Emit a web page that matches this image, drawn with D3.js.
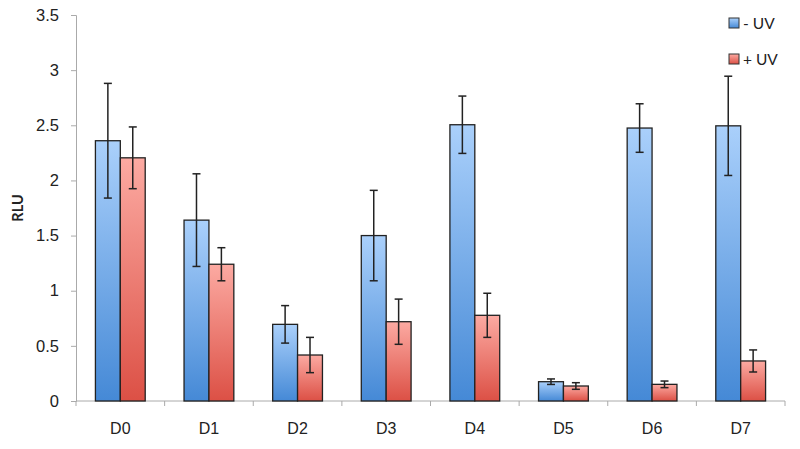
<!DOCTYPE html>
<html>
<head>
<meta charset="utf-8">
<script src="https://cdn.jsdelivr.net/npm/d3@7"></script>
<style>
  body { margin: 0; background: #fff; }
  svg { font-family: Lato, "Open Sans", sans-serif; }
</style>
</head>
<body>
<svg id="chart" width="800" height="449"></svg>
<script>
const days = ["D0", "D1", "D2", "D3", "D4", "D5", "D6", "D7"];
const series = ["- UV", "+ UV"];
const minusUV = [2.36, 1.64, 0.695, 1.50, 2.505, 0.175, 2.475, 2.495];
const minusUVErr = [0.52, 0.42, 0.17, 0.41, 0.26, 0.025, 0.22, 0.45];
const plusUV = [2.205, 1.24, 0.417, 0.719, 0.777, 0.136, 0.151, 0.363];
const plusUVErr = [0.28, 0.15, 0.16, 0.205, 0.2, 0.03, 0.03, 0.1];
const yTicks = [0, 0.5, 1, 1.5, 2, 2.5, 3, 3.5];

const svg = d3.select("#chart");
const margin = { left: 76, right: 15, top: 15, bottom: 48 };

const x = d3.scaleBand().domain(days).range([margin.left, 785]).paddingInner(0).paddingOuter(0);
const xs = d3.scaleBand().domain(series).range([0, x.bandwidth()]).paddingInner(0).paddingOuter(0.78);
const y = d3.scaleLinear().domain([0, 3.5]).range([401, 15]);

const defs = svg.append("defs");
const grads = [
  { id: "gBlue", top: "#aad0fb", bottom: "#4589d6" },
  { id: "gRed", top: "#fcaaa2", bottom: "#dc5045" }
];
grads.forEach(g => {
  const lg = defs.append("linearGradient").attr("id", g.id)
    .attr("x1", 0).attr("y1", 0).attr("x2", 0).attr("y2", 1);
  lg.append("stop").attr("offset", "0%").attr("stop-color", g.top);
  lg.append("stop").attr("offset", "100%").attr("stop-color", g.bottom);
});
const fills = ["url(#gBlue)", "url(#gRed)"];

// data rows
const rows = [];
days.forEach((d, i) => {
  rows.push({ day: d, s: series[0], v: minusUV[i], e: minusUVErr[i], k: 0 });
  rows.push({ day: d, s: series[1], v: plusUV[i], e: plusUVErr[i], k: 1 });
});

// y axis
const yAxis = svg.append("g").attr("transform", `translate(${margin.left},0)`)
  .call(d3.axisLeft(y).tickValues(yTicks).tickSize(5).tickPadding(12).tickFormat(d3.format("")));
yAxis.select(".domain").attr("stroke", "#aaa");
yAxis.selectAll(".tick line").attr("stroke", "#aaa");
yAxis.selectAll("text").attr("font-size", 16.5).attr("fill", "#222");

// x axis
const xAxis = svg.append("g").attr("transform", `translate(0,401)`)
  .call(d3.axisBottom(x).tickSize(0).tickPadding(22));
xAxis.select(".domain").attr("stroke", "#aaa").attr("d", `M${margin.left},0H785`);
xAxis.selectAll("text").attr("font-size", 16).attr("fill", "#222");
// category boundary ticks
const bounds = days.map(d => x(d)).concat([x(days[days.length - 1]) + x.bandwidth()]);
xAxis.selectAll(".btick").data(bounds).enter().append("line")
  .attr("x1", d => d).attr("x2", d => d).attr("y1", 0).attr("y2", 5)
  .attr("stroke", "#aaa");

// bars
const bars = svg.append("g");
bars.selectAll("rect").data(rows).enter().append("rect")
  .attr("x", d => x(d.day) + xs(d.s))
  .attr("y", d => y(d.v))
  .attr("width", xs.bandwidth())
  .attr("height", d => y(0) - y(d.v))
  .attr("fill", d => fills[d.k])
  .attr("stroke", "#222")
  .attr("stroke-width", 1.3);

// error bars
const err = svg.append("g").attr("stroke", "#222").attr("stroke-width", 1.5);
const cx = d => x(d.day) + xs(d.s) + xs.bandwidth() / 2;
err.selectAll(".v").data(rows).enter().append("line")
  .attr("x1", cx).attr("x2", cx)
  .attr("y1", d => y(d.v + d.e)).attr("y2", d => y(d.v - d.e));
["top", "bot"].forEach((w, j) => {
  err.selectAll("." + w).data(rows).enter().append("line")
    .attr("x1", d => cx(d) - 4).attr("x2", d => cx(d) + 4)
    .attr("y1", d => y(j ? d.v - d.e : d.v + d.e))
    .attr("y2", d => y(j ? d.v - d.e : d.v + d.e));
});

// y label
svg.append("text")
  .attr("transform", "translate(23,208) rotate(-90)")
  .attr("text-anchor", "middle")
  .attr("font-size", 14.5).attr("font-weight", "bold").attr("fill", "#222")
  .text("RLU");

// legend
const legend = svg.append("g");
series.forEach((s, i) => {
  const g = legend.append("g").attr("transform", `translate(729,${18 + i * 36})`);
  g.append("rect").attr("width", 10).attr("height", 10)
    .attr("fill", fills[i]).attr("stroke", "#333").attr("stroke-width", 1);
  g.append("text").attr("x", 14).attr("y", 11).attr("font-size", 15.5).attr("fill", "#222").text(s);
});
</script>
</body>
</html>
